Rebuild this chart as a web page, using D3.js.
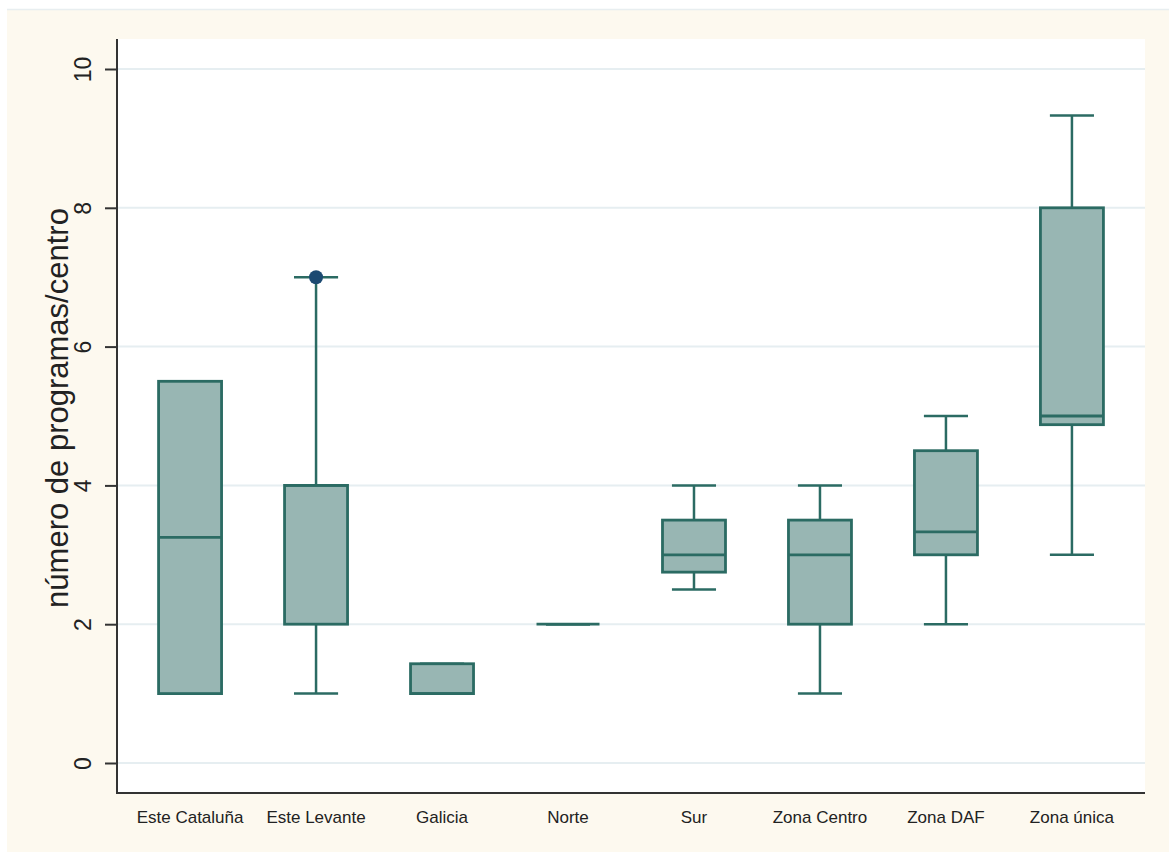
<!DOCTYPE html>
<html>
<head>
<meta charset="utf-8">
<script src="https://cdn.jsdelivr.net/npm/d3@7"></script>
<style>
  html, body { margin: 0; padding: 0; background: #ffffff; }
  svg { display: block; }
  text { font-family: "Liberation Sans", Arial, sans-serif; fill: #222; }
</style>
</head>
<body>
<svg id="chart" width="1169" height="852"></svg>
<script>
// Programs per centre, by zone (box-plot summary statistics)
const categories = ["Este Cataluña", "Este Levante", "Galicia", "Norte", "Sur", "Zona Centro", "Zona DAF", "Zona única"];
const lowerWhisker = [1, 1, 1, 2, 2.5, 1, 2, 3];
const q1Values     = [1, 2, 1, 2, 2.75, 2, 3, 4.875];
const medianValues = [3.25, 4, 1, 2, 3, 3, 3.33, 5];
const q3Values     = [5.5, 4, 1.43, 2, 3.5, 3.5, 4.5, 8];
const upperWhisker = [5.5, 7, 1.43, 2, 4, 4, 5, 9.33];
const outlierCategories = ["Este Levante"];
const outlierValues     = [7];
const yTicks = [0, 2, 4, 6, 8, 10];
const yTitle = "número de programas/centro";

const svg = d3.select("#chart");

// Outer panel and plot region
svg.append("rect").attr("x", 7).attr("y", 9).attr("width", 1162).attr("height", 843)
  .attr("fill", "#fdf9ef");
svg.append("line").attr("x1", 7).attr("x2", 1169).attr("y1", 9.5).attr("y2", 9.5)
  .attr("stroke", "#e8eef0").attr("stroke-width", 1.5);

const plot = { left: 117, right: 1145, top: 39, bottom: 793 };
svg.append("rect").attr("x", plot.left).attr("y", plot.top)
  .attr("width", plot.right - plot.left).attr("height", plot.bottom - plot.top)
  .attr("fill", "#ffffff");

const y = d3.scaleLinear().domain([0, 10]).range([763, 69]);
const x = d3.scalePoint().domain(categories).range([plot.left, plot.right]).padding(0.58);
const step = x.step();
const boxW = step * 0.5;
const capW = step * 0.35;

// Horizontal grid
svg.append("g").selectAll("line").data(yTicks).join("line")
  .attr("x1", plot.left).attr("x2", plot.right)
  .attr("y1", d => y(d)).attr("y2", d => y(d))
  .attr("stroke", "#e6eef1").attr("stroke-width", 2);

// Y axis
const yAxis = svg.append("g").attr("transform", `translate(${plot.left},0)`)
  .call(d3.axisLeft(y).tickValues(yTicks).tickSize(12).tickPadding(14).tickFormat(d3.format("d")));
yAxis.select(".domain").attr("d", `M0,${plot.top}V${plot.bottom}`).attr("stroke", "#333").attr("stroke-width", 2);
yAxis.selectAll(".tick line").attr("stroke", "#333").attr("stroke-width", 2);
yAxis.selectAll(".tick text")
  .attr("font-size", 23).attr("fill", "#222")
  .attr("text-anchor", "middle")
  .attr("x", 0).attr("dy", 0)
  .attr("transform", "translate(-26,0) rotate(-90)");

// X axis
svg.append("line").attr("x1", plot.left - 1).attr("x2", plot.right)
  .attr("y1", plot.bottom).attr("y2", plot.bottom)
  .attr("stroke", "#333").attr("stroke-width", 2);
svg.append("g").selectAll("text").data(categories).join("text")
  .attr("x", d => x(d)).attr("y", 823)
  .attr("text-anchor", "middle").attr("font-size", 17)
  .text(d => d);

// Axis title
svg.append("text")
  .attr("transform", "translate(68,408) rotate(-90)")
  .attr("text-anchor", "middle").attr("font-size", 31)
  .text(yTitle);

// Boxes
const stroke = "#2b6b63";
const fill = "#98b6b3";
const boxes = svg.append("g");
categories.forEach((c, i) => {
  const cx = x(c);
  const g = boxes.append("g");
  // whiskers
  g.append("line").attr("x1", cx).attr("x2", cx)
    .attr("y1", y(q3Values[i])).attr("y2", y(upperWhisker[i]))
    .attr("stroke", stroke).attr("stroke-width", 2.5);
  g.append("line").attr("x1", cx).attr("x2", cx)
    .attr("y1", y(q1Values[i])).attr("y2", y(lowerWhisker[i]))
    .attr("stroke", stroke).attr("stroke-width", 2.5);
  [upperWhisker[i], lowerWhisker[i]].forEach(v => {
    g.append("line").attr("x1", cx - capW / 2).attr("x2", cx + capW / 2)
      .attr("y1", y(v)).attr("y2", y(v))
      .attr("stroke", stroke).attr("stroke-width", 2.5);
  });
  // box
  g.append("rect").attr("x", cx - boxW / 2).attr("width", boxW)
    .attr("y", y(q3Values[i])).attr("height", y(q1Values[i]) - y(q3Values[i]))
    .attr("fill", fill).attr("stroke", stroke).attr("stroke-width", 2.8);
  // median
  g.append("line").attr("x1", cx - boxW / 2).attr("x2", cx + boxW / 2)
    .attr("y1", y(medianValues[i])).attr("y2", y(medianValues[i]))
    .attr("stroke", stroke).attr("stroke-width", 2.8);
});

// Outside values
svg.append("g").selectAll("circle").data(outlierValues).join("circle")
  .attr("cx", (d, i) => x(outlierCategories[i])).attr("cy", d => y(d))
  .attr("r", 7).attr("fill", "#1c4a72");
</script>
</body>
</html>
